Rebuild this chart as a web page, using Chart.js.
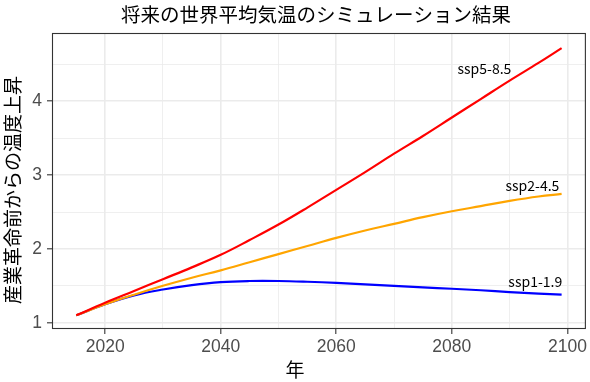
<!DOCTYPE html>
<html>
<head>
<meta charset="utf-8">
<script src="https://cdn.jsdelivr.net/npm/chart.js@4"></script>
<style>
html,body{margin:0;padding:0;background:#fff;}
#wrap{width:590px;height:382px;position:relative;}
</style>
</head>
<body>
<div id="wrap"><canvas id="c" width="590" height="382"></canvas></div>
<script>
// ---- data ----
const years = [2015,2020,2025,2030,2035,2040,2045,2050,2055,2060,2065,2070,2075,2080,2085,2090,2095,2099];
const ssp585 = [1.10,1.27,1.43,1.59,1.75,1.92,2.12,2.33,2.56,2.80,3.04,3.29,3.53,3.78,4.03,4.28,4.52,4.72];
const ssp245 = [1.10,1.25,1.38,1.50,1.61,1.71,1.82,1.93,2.04,2.15,2.25,2.34,2.43,2.51,2.58,2.65,2.71,2.745];
const ssp119 = [1.10,1.25,1.37,1.45,1.51,1.55,1.565,1.565,1.555,1.54,1.52,1.50,1.48,1.46,1.44,1.415,1.395,1.38];
const seriesNames = ['ssp5-8.5','ssp2-4.5','ssp1-1.9'];
const labelYears = [2090.3, 2098.6, 2099.1];
const labelValues = [4.37, 2.785, 1.484];
const xTicks = [2020,2030,2040,2050,2060,2070,2080,2090,2100];
const yTicks = [1,1.5,2,2.5,3,3.5,4,4.5];
const titleText = '将来の世界平均気温のシミュレーション結果';
const xTitle = '年';
const yTitle = '産業革命前からの温度上昇';

const toPts = (vals) => years.map((y,i)=>({x:y,y:vals[i]}));
const colors = ['#FF0000','#FFA500','#0000FF'];
const seriesData = [ssp585, ssp245, ssp119];

const textPlugin = {
  id:'textPlugin',
  afterDraw(chart){
    const ctx = chart.ctx;
    const ca = chart.chartArea;
    const xs = chart.scales.x, ys = chart.scales.y;
    ctx.save();
    // panel border
    ctx.strokeStyle = '#333333';
    ctx.lineWidth = 1.1;
    ctx.strokeRect(ca.left+0.5, ca.top+0.5, ca.right-ca.left-1, ca.bottom-ca.top-1);
    // series labels
    ctx.fillStyle = '#000';
    ctx.font = '14px "Noto Sans CJK JP", "Noto Sans"';
    ctx.textAlign = 'right';
    ctx.textBaseline = 'alphabetic';
    seriesNames.forEach((n,i)=>{
      ctx.fillText(n, xs.getPixelForValue(labelYears[i]), ys.getPixelForValue(labelValues[i]));
    });
    // title
    ctx.textAlign = 'center';
    ctx.textBaseline = 'middle';
    ctx.font = '19.5px "Noto Sans CJK JP"';
    ctx.fillText(titleText, (ca.left+ca.right)/2 - 3, 15);
    // x title
    ctx.font = '19px "Noto Sans CJK JP"';
    ctx.fillText(xTitle, 295, 370);
    // y title
    ctx.translate(13, 190);
    ctx.rotate(-Math.PI/2);
    ctx.fillText(yTitle, 0, 0);
    ctx.restore();
  }
};

new Chart(document.getElementById('c'), {
  type:'line',
  data:{
    datasets: seriesData.map((d,i)=>({
      label: seriesNames[i],
      data: toPts(d),
      borderColor: colors[i],
      backgroundColor: colors[i],
      borderWidth: 2.2,
      pointRadius: 0,
      tension: 0.4,
      fill:false
    }))
  },
  options:{
    responsive:false,
    animation:false,
    devicePixelRatio:1,
    layout:{padding:{left:0,right:4,top:33,bottom:0}},
    plugins:{legend:{display:false},title:{display:false},tooltip:{enabled:false}},
    scales:{
      x:{
        type:'linear', min:2010.8, max:2103.2,
        afterBuildTicks(s){ s.ticks = xTicks.map(v=>({value:v})); },
        afterFit(s){ s.height = 53; },
        border:{display:false},
        grid:{
          color:'#EBEBEB',
          lineWidth:(c)=> (c.tick && c.tick.value%20===0) ? 1.6 : 0.8,
          tickColor:(c)=> (c.tick && c.tick.value%20===0) ? '#333333' : 'rgba(0,0,0,0)',
          tickWidth:1.1,
          tickLength:5
        },
        ticks:{
          autoSkip:false, maxRotation:0, includeBounds:false, padding:3,
          color:'#4D4D4D',
          font:{family:'"Liberation Sans", Arial', size:17.5},
          callback:(v)=> v%20===0 ? String(v) : ''
        }
      },
      y:{
        type:'linear', min:0.915, max:4.925,
        afterBuildTicks(s){ s.ticks = yTicks.map(v=>({value:v})); },
        afterFit(s){ s.width = 52; },
        border:{display:false},
        grid:{
          color:'#EBEBEB',
          lineWidth:(c)=> (c.tick && Number.isInteger(c.tick.value)) ? 1.6 : 0.8,
          tickColor:(c)=> (c.tick && Number.isInteger(c.tick.value)) ? '#333333' : 'rgba(0,0,0,0)',
          tickWidth:1.1,
          tickLength:5
        },
        ticks:{
          autoSkip:false, includeBounds:false, padding:5,
          color:'#4D4D4D',
          font:{family:'"Liberation Sans", Arial', size:17.5},
          callback:(v)=> Number.isInteger(v) ? String(v) : ''
        }
      }
    }
  },
  plugins:[textPlugin]
});
</script>
</body>
</html>
